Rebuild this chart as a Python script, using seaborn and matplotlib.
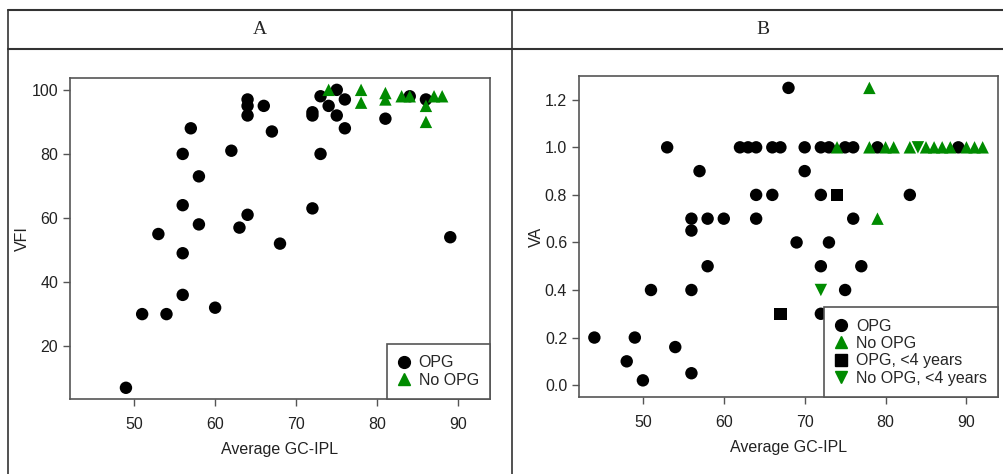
import matplotlib
matplotlib.use("Agg")
import matplotlib.pyplot as plt
from matplotlib.lines import Line2D
import seaborn as sns
import pandas as pd

# ─── Данные: панель A (VFI) ─────────────────────────────────────────────────────
a_opg_x = [49, 51, 54, 56, 60, 53, 56, 56, 56, 57, 58, 58, 62, 63, 64, 64, 64, 64,
           66, 67, 68, 72, 72, 72, 73, 73, 74, 75, 75, 76, 76, 81, 84, 86, 89]
a_opg_y = [7, 30, 30, 36, 32, 55, 49, 64, 80, 88, 73, 58, 81, 57, 61, 92, 95, 97,
           95, 87, 52, 63, 92, 93, 80, 98, 95, 100, 92, 97, 88, 91, 98, 97, 54]
a_noopg_x = [74, 78, 78, 81, 81, 83, 84, 86, 86, 87, 88]
a_noopg_y = [100, 100, 96, 99, 97, 98, 98, 95, 90, 98, 98]

# ─── Данные: панель B (VA) ──────────────────────────────────────────────────────
b_opg_x = [44, 48, 49, 50, 51, 53, 54, 56, 56, 56, 56, 57, 58, 58, 60, 62, 63, 64,
           64, 64, 66, 66, 67, 68, 69, 70, 70, 72, 72, 72, 72, 73, 73, 75, 75, 76,
           76, 77, 79, 83, 89]
b_opg_y = [0.2, 0.1, 0.2, 0.02, 0.4, 1.0, 0.16, 0.05, 0.4, 0.65, 0.7, 0.9, 0.5, 0.7,
           0.7, 1.0, 1.0, 1.0, 0.8, 0.7, 1.0, 0.8, 1.0, 1.25, 0.6, 1.0, 0.9, 1.0,
           0.8, 0.5, 0.3, 1.0, 0.6, 1.0, 0.4, 1.0, 0.7, 0.5, 1.0, 0.8, 1.0]
b_noopg_x = [74, 78, 78, 79, 80, 81, 83, 85, 86, 87, 88, 90, 91, 92]
b_noopg_y = [1.0, 1.0, 1.25, 0.7, 1.0, 1.0, 1.0, 1.0, 1.0, 1.0, 1.0, 1.0, 1.0, 1.0]
b_opg4_x = [67, 74]
b_opg4_y = [0.3, 0.8]
b_noopg4_x = [72, 84]
b_noopg4_y = [0.4, 1.0]

a_xticks = [50, 60, 70, 80, 90]
a_yticks = [20, 40, 60, 80, 100]
b_yticks = [0.0, 0.2, 0.4, 0.6, 0.8, 1.0, 1.2]

GREEN = "#008B00"
groups = ["OPG", "No OPG", "OPG, <4 years", "No OPG, <4 years"]
palette = {"OPG": "black", "No OPG": GREEN, "OPG, <4 years": "black", "No OPG, <4 years": GREEN}
markers = {"OPG": "o", "No OPG": "^", "OPG, <4 years": "s", "No OPG, <4 years": "v"}


def make_frame(parts):
    rows = []
    for name, xs, ys in parts:
        for x, y in zip(xs, ys):
            rows.append({"gc_ipl": x, "value": y, "group": name})
    return pd.DataFrame(rows)


df_a = make_frame([("OPG", a_opg_x, a_opg_y), ("No OPG", a_noopg_x, a_noopg_y)])
df_b = make_frame([("OPG", b_opg_x, b_opg_y), ("No OPG", b_noopg_x, b_noopg_y),
                   ("OPG, <4 years", b_opg4_x, b_opg4_y),
                   ("No OPG, <4 years", b_noopg4_x, b_noopg4_y)])

sns.set_style("white")
plt.rcParams["font.family"] = ["Liberation Sans", "DejaVu Sans"]

W, H = 1004, 474
fig = plt.figure(figsize=(W / 100, H / 100), dpi=100)

FRAME = "#555555"


def style_axes(ax, ylabel):
    for sp in ax.spines.values():
        sp.set_color(FRAME)
        sp.set_linewidth(1.2)
    ax.tick_params(axis="both", direction="out", length=5, width=1, color=FRAME,
                   labelsize=11.5, labelcolor="#222222", bottom=True, left=True)
    ax.tick_params(axis="x", pad=8)
    ax.tick_params(axis="y", pad=3.5)
    ax.set_xlabel("Average GC-IPL", fontsize=11.5, color="#222222", labelpad=7)
    ax.set_ylabel(ylabel, fontsize=11.5, color="#222222", labelpad=1)


def add_legend(ax, names):
    handles = [Line2D([], [], marker=markers[n], color=palette[n], linestyle="none",
                      markersize=8.5) for n in names]
    leg = ax.legend(handles, names, loc="lower right", bbox_to_anchor=(1, 0),
                    borderaxespad=0, fancybox=False, framealpha=1, fontsize=11.5,
                    handlelength=0.8, handletextpad=0.5, labelspacing=0.15,
                    borderpad=0.7)
    leg.get_frame().set_edgecolor(FRAME)
    leg.get_frame().set_linewidth(1.2)


# ─── Панель A ───────────────────────────────────────────────────────────────────
ax_a = fig.add_axes([70 / W, (H - 399) / H, 420 / W, 321 / H])
sns.scatterplot(data=df_a, x="gc_ipl", y="value", hue="group", style="group",
                palette=palette, markers=markers, s=80, linewidth=0,
                legend=False, ax=ax_a)
ax_a.set_xlim(42.1, 93.9)
ax_a.set_ylim(3.5, 103.7)
ax_a.set_xticks(a_xticks)
ax_a.set_yticks(a_yticks)
style_axes(ax_a, "VFI")
add_legend(ax_a, groups[:2])

# ─── Панель B ───────────────────────────────────────────────────────────────────
ax_b = fig.add_axes([579 / W, (H - 397) / H, 419 / W, 321 / H])
sns.scatterplot(data=df_b, x="gc_ipl", y="value", hue="group", style="group",
                palette=palette, markers=markers, s=80, linewidth=0,
                legend=False, ax=ax_b)
ax_b.set_xlim(42.1, 93.9)
ax_b.set_ylim(-0.05, 1.3)
ax_b.set_xticks(a_xticks)
ax_b.set_yticks(b_yticks)
ax_b.set_yticklabels([f"{v:.1f}" for v in b_yticks])
style_axes(ax_b, "VA")
add_legend(ax_b, groups)

# ─── Рамка таблицы с заголовками A / B ─────────────────────────────────────────
def hline(y, x0, x1):
    fig.add_artist(Line2D([x0 / W, x1 / W], [1 - y / H, 1 - y / H], color="#333333", lw=1.5))


def vline(x, y0, y1):
    fig.add_artist(Line2D([x / W, x / W], [1 - y0 / H, 1 - y1 / H], color="#333333", lw=1.2))


hline(10, 8, W)
hline(49, 8, W)
vline(8, 10, H)
vline(512, 10, H)
fig.text(260 / W, 1 - 29 / H, "A", ha="center", va="center", fontsize=14,
         family=["Liberation Serif", "DejaVu Serif"])
fig.text(763 / W, 1 - 29 / H, "B", ha="center", va="center", fontsize=14,
         family=["Liberation Serif", "DejaVu Serif"])

fig.savefig("out.png", dpi=100)
